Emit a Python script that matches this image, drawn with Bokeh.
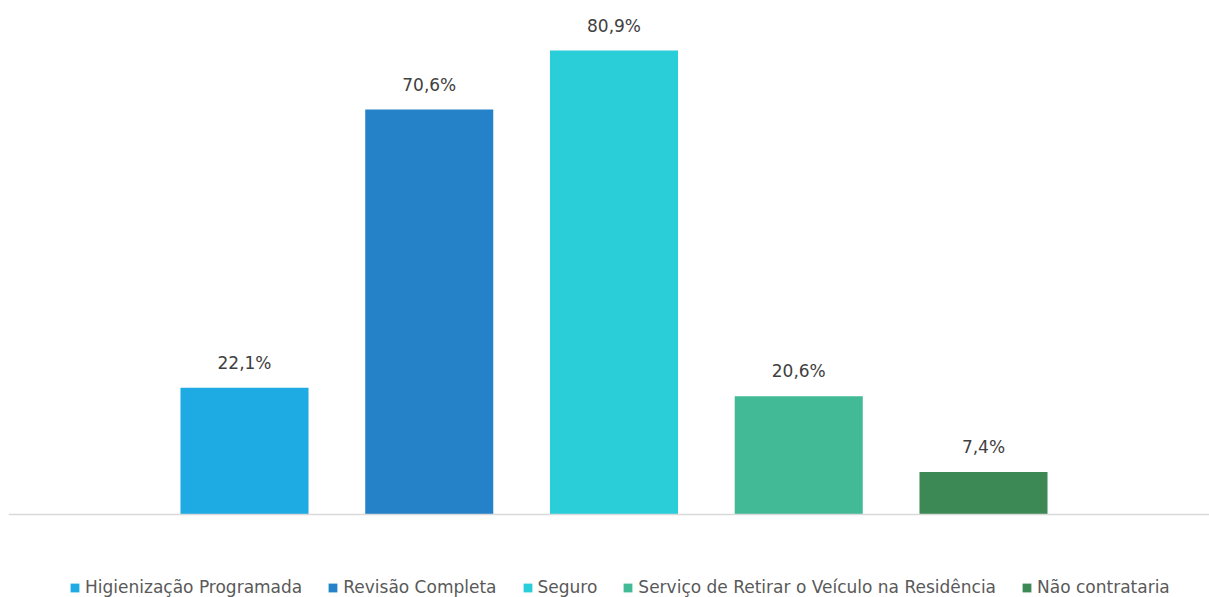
from bokeh.plotting import figure
from bokeh.models import ColumnDataSource, Span, Legend, LegendItem, Range1d
from bokeh.core.properties import value
from bokeh.embed import file_html
from bokeh.resources import INLINE

categories = ["Higienização Programada", "Revisão Completa", "Seguro",
              "Serviço de Retirar o Veículo na Residência", "Não contrataria"]
values = [22.1, 70.6, 80.9, 20.6, 7.4]
labels = ["22,1%", "70,6%", "80,9%", "20,6%", "7,4%"]
colors = ["#1EAAE2", "#2682C8", "#29CED8", "#43BA96", "#3D8955"]

xs = [1, 2, 3, 4, 5]

p = figure(width=1209, height=597, output_backend="svg", toolbar_location=None,
           x_range=Range1d(-0.2774, 6.2233), y_range=Range1d(-14.47, 88.23),
           min_border_left=8, min_border_right=0, min_border_top=8, min_border_bottom=0)
p.xaxis.visible = False
p.yaxis.visible = False
p.xgrid.visible = False
p.ygrid.visible = False
p.outline_line_color = None

items = []
for i in range(len(categories)):
    src = ColumnDataSource(dict(x=[xs[i]], top=[values[i]], lab=[labels[i]]))
    r = p.vbar(x="x", top="top", bottom=0, width=0.693, source=src,
               fill_color=colors[i], line_color=None)
    items.append(LegendItem(label=categories[i], renderers=[r]))
    p.text(x="x", y="top", text="lab", source=src, text_align="center",
           text_baseline="bottom", y_offset=-15, text_font=value("DejaVu Sans"),
           text_font_size="17px", text_color="#404040")

p.add_layout(Span(location=0, dimension="width", line_color="#d9d9d9", line_width=1.5))

legend = Legend(items=items, orientation="horizontal", location=(61, 0),
                background_fill_alpha=0, border_line_color=None,
                label_text_font="DejaVu Sans", label_text_font_size="17px",
                label_text_color="#595959", glyph_width=11, glyph_height=11,
                spacing=25, padding=0, margin=0, label_standoff=5)
p.add_layout(legend)

open("out.html", "w").write(file_html(p, INLINE))
